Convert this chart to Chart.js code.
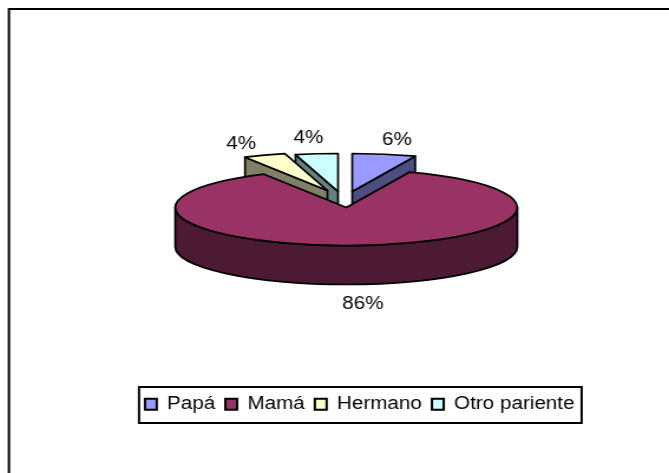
<!DOCTYPE html>
<html>
<head>
<meta charset="utf-8">
<title>Pie</title>
<script src="https://cdn.jsdelivr.net/npm/chart.js@4"></script>
<style>
  html, body { margin: 0; padding: 0; background: #fff; overflow: hidden; }
  #chart { display: block; width: 669px; height: 473px; }
</style>
</head>
<body>
<!-- the reference is stretched sideways, so the canvas is drawn narrow and widened by css -->
<canvas id="chart" width="567" height="473" style="width:669px;height:473px"></canvas>
<script>
const categories = ['Papá', 'Mamá', 'Hermano', 'Otro pariente'];
const shares = [6, 86, 4, 4];
const topColors = ['#9999FF', '#993366', '#FFFFCC', '#CCFFFF'];
const sideColors = ['#4D4D80', '#4D1A33', '#808066', '#668080'];

// pie look, in canvas px
const SQUASH = 0.262;
const DEPTH = 39;
const drawOrder = [3, 2, 0, 1]; // back to front
const explode = [[5, -16], [0, 0], [-16, -17], [-7, -16]];
const labelOffsets = [[43, -67.5], [14, 97], [-89, -63], [-32, -69]];

const INK = '#000';
const FONT_SIZE = 17.5;
const FONT = FONT_SIZE + 'px "Liberation Sans", Arial, sans-serif';

function drawSlice(ctx, arc, i) {
  const rx = arc.outerRadius;
  const ry = rx * SQUASH;
  const cx = arc.x + explode[i][0];
  const cy = arc.y + explode[i][1];
  const start = arc.startAngle;
  const end = arc.endAngle;

  ctx.lineWidth = 1.7;
  ctx.lineJoin = 'round';
  ctx.strokeStyle = INK;

  // radial faces that look towards the viewer
  ctx.fillStyle = sideColors[i];
  [[start, -Math.cos(start)], [end, Math.cos(end)]].forEach(([a, facing]) => {
    if (facing <= 0.001) return;
    const px = cx + Math.cos(a) * rx;
    const py = cy + Math.sin(a) * ry;
    ctx.beginPath();
    ctx.moveTo(cx, cy);
    ctx.lineTo(px, py);
    ctx.lineTo(px, py + DEPTH);
    ctx.lineTo(cx, cy + DEPTH);
    ctx.closePath();
    ctx.fill();
    ctx.stroke();
  });

  // outer wall, only the front half of the ellipse shows
  const a0 = Math.max(start, 0);
  const a1 = Math.min(end, Math.PI);
  if (a1 > a0) {
    ctx.beginPath();
    ctx.ellipse(cx, cy, rx, ry, 0, a0, a1);
    ctx.lineTo(cx + Math.cos(a1) * rx, cy + Math.sin(a1) * ry + DEPTH);
    ctx.ellipse(cx, cy + DEPTH, rx, ry, 0, a1, a0, true);
    ctx.closePath();
    ctx.fill();
    ctx.stroke();
  }

  // top face
  ctx.fillStyle = topColors[i];
  ctx.beginPath();
  ctx.moveTo(cx, cy);
  ctx.ellipse(cx, cy, rx, ry, 0, start, end);
  ctx.closePath();
  ctx.fill();
  ctx.stroke();
}

const pie3d = {
  id: 'pie3d',
  beforeDraw(chart) {
    // outer frame, open on the right and at the bottom
    const { ctx, width, height } = chart;
    ctx.save();
    ctx.strokeStyle = INK;
    ctx.lineWidth = 2;
    ctx.beginPath();
    ctx.moveTo(7.6, height);
    ctx.lineTo(7.6, 9);
    ctx.lineTo(width, 9);
    ctx.stroke();
    ctx.restore();
  },
  afterLayout(chart) {
    // legend sits a bit right of the pie
    chart.legend.left += 11.4;
    chart.legend.right += 11.4;
    chart.legend.legendHitBoxes.forEach(box => { box.left += 11.4; });
  },
  beforeDatasetsDraw(chart) {
    const { ctx } = chart;
    const arcs = chart.getDatasetMeta(0).data;
    ctx.save();
    drawOrder.forEach(i => drawSlice(ctx, arcs[i], i));

    // percent labels
    const total = shares.reduce((a, b) => a + b, 0);
    ctx.fillStyle = INK;
    ctx.font = FONT;
    ctx.textAlign = 'center';
    ctx.textBaseline = 'middle';
    arcs.forEach((arc, i) => {
      const pct = Math.round(shares[i] / total * 100) + '%';
      ctx.fillText(pct, arc.x + labelOffsets[i][0], arc.y + labelOffsets[i][1]);
    });
    ctx.restore();
    return false;
  },
  afterDraw(chart) {
    // box round the legend
    const { ctx, legend } = chart;
    const boxes = legend.legendHitBoxes;
    const last = boxes[boxes.length - 1];
    const left = boxes[0].left - 5;
    const right = last.left + last.width + 6;
    ctx.save();
    ctx.strokeStyle = INK;
    ctx.lineWidth = 2;
    ctx.strokeRect(left, legend.top, right - left, legend.bottom - legend.top);
    ctx.restore();
  }
};

new Chart(document.getElementById('chart'), {
  type: 'pie',
  data: {
    labels: categories,
    datasets: [{
      data: shares,
      backgroundColor: topColors,
      borderColor: INK,
      borderWidth: 2
    }]
  },
  options: {
    responsive: false,
    devicePixelRatio: 1,
    animation: false,
    events: [],
    radius: 145,
    layout: { padding: { left: 20, top: 28, bottom: 50 } },
    plugins: {
      tooltip: { enabled: false },
      legend: {
        position: 'bottom',
        labels: {
          color: INK,
          boxWidth: 10,
          boxHeight: 11,
          padding: 8.5,
          font: { family: '"Liberation Sans", Arial, sans-serif', size: FONT_SIZE }
        }
      }
    }
  },
  plugins: [pie3d]
});
</script>
</body>
</html>
